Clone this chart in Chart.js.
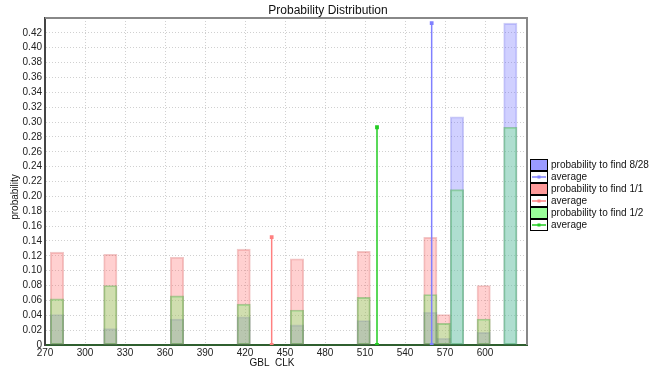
<!DOCTYPE html>
<html>
<head>
<meta charset="utf-8">
<script src="https://cdn.jsdelivr.net/npm/chart.js@4/dist/chart.umd.min.js"></script>
<style>
  html, body { margin: 0; padding: 0; background: #fff; }
  #wrap { width: 667px; height: 368px; position: relative; }
</style>
</head>
<body>
<div id="wrap"><canvas id="c" width="667" height="368"></canvas></div>
<script>
// ---- data ----
const binCenters = [279, 319, 369, 419, 459, 509, 559, 569, 579, 599, 619];
const probBlue  = [0.041, 0.022, 0.035, 0.038, 0.027, 0.033, 0.044, 0.009, 0.307, 0.017, 0.433];
const probRed   = [0.125, 0.122, 0.118, 0.129, 0.116, 0.126, 0.145, 0.041, 0, 0.080, 0];
const probGreen = [0.062, 0.080, 0.066, 0.055, 0.047, 0.064, 0.068, 0.029, 0.209, 0.035, 0.293];
const avgX = [560, 440, 519];          // blue, red, green
const avgY = [0.433, 0.145, 0.293];
const seriesLabels = ['probability to find 8/28', 'probability to find 1/1', 'probability to find 1/2'];
const avgLabel = 'average';
const xTickMin = 270, xTickMax = 600, xStep = 30;
const yTickStep = 0.02, yMax = 0.44;
const chartTitle = 'Probability Distribution';
const yTitle = 'probability';
const xTitle = 'GBL  CLK';

const FONT = '"Liberation Sans", Arial, Helvetica, sans-serif';
const fill  = ['rgba(100,100,255,0.3)', 'rgba(255,100,100,0.3)', 'rgba(100,255,100,0.3)'];
const edge  = ['rgba(90,90,230,0.3)', 'rgba(210,70,70,0.3)', 'rgba(50,170,50,0.4)'];
const lineC = ['#8080ff', '#ff8080', '#22cc22'];
const legFill = ['#9a9aff', '#ff9a9a', '#9aff9a'];

function pts(vals) { return binCenters.map((x, i) => ({x: x, y: vals[i]})); }
function barDs(i, vals, order) {
  return {
    type: 'bar', label: seriesLabels[i], data: pts(vals), order: order,
    backgroundColor: fill[i], borderColor: edge[i], borderWidth: 1.2,
    borderSkipped: false, grouped: false, barPercentage: 1, categoryPercentage: 1
  };
}
function avgDs(i) {
  return {
    type: 'line', label: avgLabel,
    data: [{x: avgX[i], y: 0}, {x: avgX[i], y: avgY[i]}],
    borderColor: lineC[i], backgroundColor: lineC[i], borderWidth: 1.5,
    pointStyle: 'rect', pointRadius: 1.6, pointHoverRadius: 1.6, fill: false, order: 0
  };
}

const decor = {
  id: 'decor',
  afterDraw(chart) {
    const ctx = chart.ctx, a = chart.chartArea;
    ctx.save();
    ctx.strokeStyle = '#888'; ctx.lineWidth = 2;
    ctx.beginPath();
    ctx.moveTo(a.left, a.top); ctx.lineTo(a.right, a.top); ctx.lineTo(a.right, a.bottom);
    ctx.stroke();
    ctx.fillStyle = '#111';
    ctx.font = '12px ' + FONT;
    ctx.textAlign = 'center'; ctx.textBaseline = 'alphabetic';
    ctx.fillText(chartTitle, 328, 14);
    ctx.font = '10px ' + FONT;
    ctx.fillText(xTitle, 272, 366);
    ctx.save();
    ctx.translate(18, 197); ctx.rotate(-Math.PI / 2);
    ctx.textBaseline = 'alphabetic';
    ctx.fillText(yTitle, 0, 0);
    ctx.restore();
    const lx = 530, bw = 17, bh = 11, pitch = 12;
    let ly = 159;
    ctx.font = '10px ' + FONT; ctx.textAlign = 'left'; ctx.textBaseline = 'middle';
    for (let i = 0; i < 3; i++) {
      ctx.fillStyle = legFill[i];
      ctx.fillRect(lx, ly, bw, bh);
      ctx.strokeStyle = '#000'; ctx.lineWidth = 1;
      ctx.strokeRect(lx + 0.5, ly + 0.5, bw, bh);
      ctx.fillStyle = '#111';
      ctx.fillText(seriesLabels[i], lx + bw + 4, ly + bh / 2 + 1);
      ly += pitch;
      ctx.fillStyle = '#fff';
      ctx.fillRect(lx, ly, bw, bh);
      ctx.strokeStyle = '#000';
      ctx.strokeRect(lx + 0.5, ly + 0.5, bw, bh);
      ctx.strokeStyle = lineC[i]; ctx.lineWidth = 1.5;
      ctx.beginPath(); ctx.moveTo(lx + 2, ly + bh / 2 + 0.5); ctx.lineTo(lx + bw - 1, ly + bh / 2 + 0.5); ctx.stroke();
      ctx.fillStyle = lineC[i];
      ctx.fillRect(lx + bw / 2 - 1, ly + bh / 2 - 1, 3, 3);
      ctx.fillStyle = '#111';
      ctx.fillText(avgLabel, lx + bw + 4, ly + bh / 2 + 1);
      ly += pitch;
    }
    ctx.restore();
  }
};

new Chart(document.getElementById('c'), {
  type: 'bar',
  data: {
    datasets: [
      avgDs(0), avgDs(1), avgDs(2),
      barDs(2, probGreen, 1),
      barDs(1, probRed, 2),
      barDs(0, probBlue, 3)
    ]
  },
  options: {
    responsive: false, animation: false, devicePixelRatio: 1,
    layout: { padding: { top: 18, right: 140, left: 0, bottom: 0 } },
    plugins: { legend: { display: false }, title: { display: false }, tooltip: { enabled: false } },
    scales: {
      x: {
        type: 'linear', min: 270, max: 631.5, offset: false,
        afterBuildTicks: (s) => {
          const t = [];
          for (let v = xTickMin; v <= xTickMax; v += xStep) t.push({value: v});
          s.ticks = t;
        },
        afterFit: (s) => { s.height = 23; },
        ticks: { font: { size: 10, family: FONT }, color: '#222', padding: 2, maxRotation: 0, autoSkip: false,
                 callback: (v) => String(v) },
        grid: { color: '#d0d0d0', drawTicks: false, offset: false },
        border: { display: true, color: '#2f5f2f', width: 2, dash: [1, 2] }
      },
      y: {
        min: 0, max: yMax,
        afterBuildTicks: (s) => {
          const t = [];
          for (let k = 0; k * yTickStep <= yMax + 1e-9; k++) t.push({value: +(k * yTickStep).toFixed(2)});
          s.ticks = t;
        },
        afterFit: (s) => { s.width = 45; },
        ticks: { font: { size: 10, family: FONT }, color: '#222', padding: 3, autoSkip: false,
                 callback: (v) => v === 0 ? '0' : (v > 0.43 ? '' : v.toFixed(2)) },
        grid: { color: '#d0d0d0', drawTicks: false },
        border: { display: true, color: '#444', width: 2, dash: [1, 2] }
      }
    }
  },
  plugins: [decor]
});
</script>
</body>
</html>
